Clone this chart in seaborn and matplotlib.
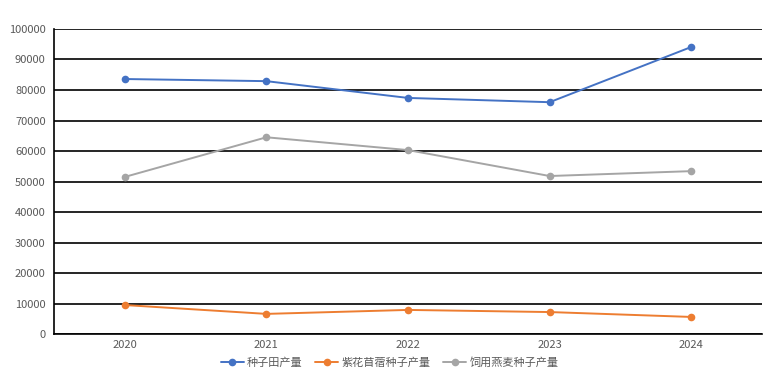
import pandas as pd
import matplotlib
matplotlib.use('Agg')
import matplotlib.pyplot as plt
import seaborn as sns

years = ['2020', '2021', '2022', '2023', '2024']
seed_field = [83600, 82900, 77400, 76000, 94100]
alfalfa_seed = [9500, 6600, 7900, 7200, 5600]
oat_seed = [51500, 64500, 60300, 51800, 53400]
series_names = ['种子田产量', '紫花苜蓿种子产量', '饲用燕麦种子产量']
colors = ['#4472C4', '#ED7D31', '#A5A5A5']

sns.set_style('white')
plt.rcParams['font.family'] = ['Noto Sans CJK SC', 'DejaVu Sans']

df = pd.DataFrame({
    'year': years * 3,
    'value': seed_field + alfalfa_seed + oat_seed,
    'series': [s for s in series_names for _ in years],
})
df['x'] = df['year'].map({y: i for i, y in enumerate(years)})

fig = plt.figure(figsize=(7.8, 3.8), dpi=100)
ax = fig.add_axes([0.0692, 0.121, 0.9078, 0.8027])
sns.lineplot(data=df, x='x', y='value', hue='series', palette=colors,
             marker='o', markersize=5.5, markeredgewidth=0, linewidth=1.4,
             ax=ax, legend=True)

ax.set_xlim(-0.5, 4.5)
ax.set_ylim(0, 100000)
ax.set_yticks(range(0, 100001, 10000))
ax.set_xticks(range(len(years)))
ax.set_xticklabels(years)
ax.set_xticks([0.5, 1.5, 2.5, 3.5], minor=True)
ax.grid(axis='y', color='black', linewidth=1.2)
ax.set_axisbelow(True)
ax.set_xlabel('')
ax.set_ylabel('')
for s in ['top', 'right']:
    ax.spines[s].set_visible(False)
for s in ['left', 'bottom']:
    ax.spines[s].set_color('black')
    ax.spines[s].set_linewidth(1.2)
ax.tick_params(axis='y', which='major', length=0, labelsize=8,
               labelcolor='#595959', pad=6)
ax.tick_params(axis='x', which='major', length=0, labelsize=8,
               labelcolor='#595959', pad=4)
ax.tick_params(axis='x', which='minor', length=4, direction='in',
               color='black', width=1)

ax.legend(loc='center', bbox_to_anchor=(0.474, -0.095), ncol=3,
          frameon=False, fontsize=8, labelcolor='#595959',
          handlelength=2.1, columnspacing=1.1, handletextpad=0.3)

fig.savefig('out.png', dpi=100)
